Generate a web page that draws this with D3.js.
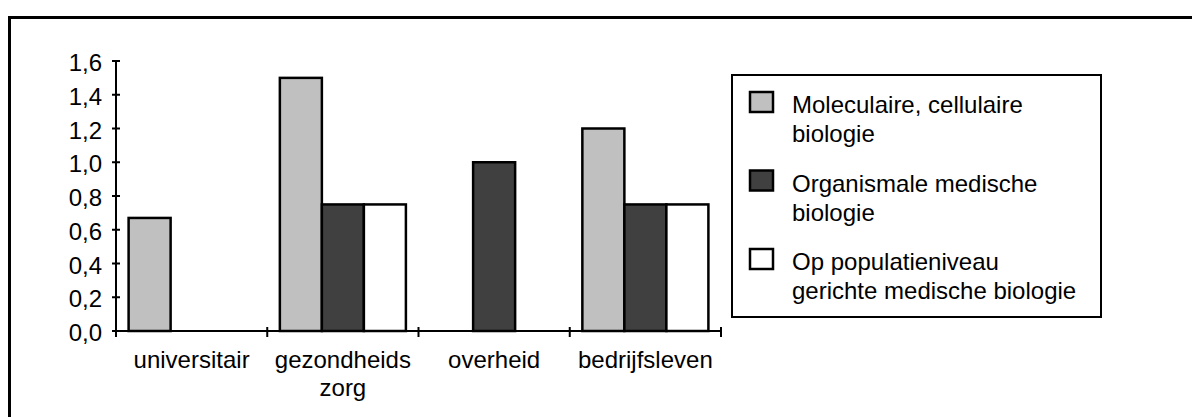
<!DOCTYPE html>
<html>
<head>
<meta charset="utf-8">
<script src="https://cdn.jsdelivr.net/npm/d3@7"></script>
<style>
  html, body { margin: 0; padding: 0; background: #fff; }
  svg { display: block; }
  text { font-family: "Liberation Sans", Arial, sans-serif; font-size: 24px; fill: #000; }
</style>
</head>
<body>
<svg id="chart" width="1192" height="417"></svg>
<script>
// Sectors (categories) and their label lines
const categories = ["universitair", "gezondheidszorg", "overheid", "bedrijfsleven"];
const categoryLabels = [["universitair"], ["gezondheids", "zorg"], ["overheid"], ["bedrijfsleven"]];

// Series (research fields) and their legend lines
const seriesKeys = ["mol", "org", "pop"];
const seriesLabels = [
  ["Moleculaire, cellulaire", "biologie"],
  ["Organismale medische", "biologie"],
  ["Op populatieniveau", "gerichte medische biologie"]
];
const seriesFills = ["#c0c0c0", "#404040", "#ffffff"];

// Values per series, one per category (null = no bar)
const molValues = [0.67, 1.5, null, 1.2];
const orgValues = [null, 0.75, 1.0, 0.75];
const popValues = [null, 0.75, null, 0.75];

// Y axis ticks
const yTicks = [0, 0.2, 0.4, 0.6, 0.8, 1.0, 1.2, 1.4, 1.6];

const svg = d3.select("#chart");
const nl = d3.formatLocale({ decimal: ",", thousands: ".", grouping: [3], currency: ["€", ""] });
const fmt = nl.format(".1f");

// Outer frame (top and left edges visible)
svg.append("path")
  .attr("d", "M9.5,430 V17.5 H1200")
  .attr("fill", "none").attr("stroke", "#000").attr("stroke-width", 3);

const x = d3.scaleBand().domain(categories).range([116, 721]).padding(0);
const xs = d3.scaleBand().domain(seriesKeys).range([0, x.bandwidth()]).paddingInner(0).paddingOuter(0.3);
const y = d3.scaleLinear().domain([0, 1.6]).range([331, 61]);

const seriesValues = [molValues, orgValues, popValues];
const data = [];
categories.forEach((c, i) => {
  seriesKeys.forEach((k, j) => {
    const v = seriesValues[j][i];
    if (v != null) data.push({ cat: c, key: k, value: v, fill: seriesFills[j] });
  });
});

// Bars
svg.append("g").selectAll("rect").data(data).join("rect")
  .attr("x", d => x(d.cat) + xs(d.key))
  .attr("y", d => y(d.value))
  .attr("width", xs.bandwidth())
  .attr("height", d => y(0) - y(d.value))
  .attr("fill", d => d.fill)
  .attr("stroke", "#000")
  .attr("stroke-width", 2.5);

// Y axis
const yAxis = svg.append("g");
yAxis.append("line")
  .attr("x1", 116).attr("x2", 116)
  .attr("y1", y(1.6)).attr("y2", y(0))
  .attr("stroke", "#000").attr("stroke-width", 2);
yAxis.selectAll("line.tick").data(yTicks).join("line")
  .attr("class", "tick")
  .attr("x1", 112).attr("x2", 120)
  .attr("y1", d => y(d)).attr("y2", d => y(d))
  .attr("stroke", "#000").attr("stroke-width", 2);
yAxis.selectAll("text").data(yTicks).join("text")
  .attr("x", 102)
  .attr("y", d => y(d) + 10)
  .attr("text-anchor", "end")
  .text(d => fmt(d));

// X axis
const xAxis = svg.append("g");
xAxis.append("line")
  .attr("x1", 116).attr("x2", 721)
  .attr("y1", y(0)).attr("y2", y(0))
  .attr("stroke", "#000").attr("stroke-width", 2);
const bounds = categories.map(c => x(c)).concat([x.range()[1]]);
xAxis.selectAll("line.tick").data(bounds).join("line")
  .attr("class", "tick")
  .attr("x1", d => d).attr("x2", d => d)
  .attr("y1", y(0) - 4).attr("y2", y(0) + 6)
  .attr("stroke", "#000").attr("stroke-width", 2);
const catText = xAxis.selectAll("text").data(categories).join("text")
  .attr("x", d => x(d) + x.bandwidth() / 2)
  .attr("y", 368)
  .attr("text-anchor", "middle");
catText.each(function(d, i) {
  d3.select(this).selectAll("tspan").data(categoryLabels[i]).join("tspan")
    .attr("x", x(d) + x.bandwidth() / 2)
    .attr("dy", (t, k) => k === 0 ? 0 : 28)
    .text(t => t);
});

// Legend
const legend = svg.append("g");
legend.append("rect")
  .attr("x", 732).attr("y", 75).attr("width", 369).attr("height", 242)
  .attr("fill", "#fff").attr("stroke", "#000").attr("stroke-width", 2);
const entry = legend.selectAll("g.entry").data(seriesKeys).join("g")
  .attr("class", "entry")
  .attr("transform", (d, i) => `translate(0, ${113 + i * 78.5})`);
entry.append("rect")
  .attr("x", 750).attr("y", -21).attr("width", 23).attr("height", 20)
  .attr("fill", (d, i) => seriesFills[i])
  .attr("stroke", "#000").attr("stroke-width", 2.5);
entry.append("text")
  .attr("x", 792).attr("y", 0)
  .each(function(d, i) {
    d3.select(this).selectAll("tspan").data(seriesLabels[i]).join("tspan")
      .attr("x", 792)
      .attr("dy", (t, k) => k === 0 ? 0 : 29)
      .text(t => t);
  });
</script>
</body>
</html>
